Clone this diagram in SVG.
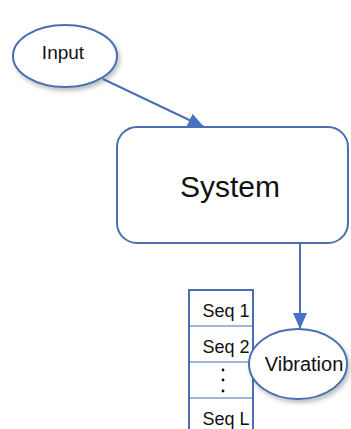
<svg xmlns="http://www.w3.org/2000/svg" width="351" height="429" viewBox="0 0 351 429">
<style>
.shape{fill:#fff;stroke:#4a6fb0;stroke-width:2}
.t{font-family:"Liberation Sans",Arial,sans-serif;fill:#111;text-anchor:middle}
.conn{stroke:#4a6fb0;stroke-width:2;fill:none}
</style>
<defs>
<marker id="ah" markerWidth="16" markerHeight="14" refX="16" refY="7" orient="auto" markerUnits="userSpaceOnUse" viewBox="0 0 16 14">
<path d="M0,0 L16,7 L0,14 z" fill="#4472c4"/>
</marker>
<filter id="sh" x="-20%" y="-20%" width="150%" height="150%">
<feDropShadow dx="2" dy="3" stdDeviation="2" flood-color="#000" flood-opacity="0.25"/>
</filter>
</defs>
<rect width="351" height="429" fill="#fff"/>
<g id="seq-table">
<rect x="189" y="290" width="64" height="145" class="shape" stroke-width="1.5"/>
<line x1="189" y1="326" x2="253" y2="326" stroke="#4a6fb0" stroke-width="1"/>
<line x1="189" y1="362" x2="253" y2="362" stroke="#4a6fb0" stroke-width="1"/>
<line x1="189" y1="398" x2="253" y2="398" stroke="#4a6fb0" stroke-width="1"/>
<text class="t" x="226" y="317" font-size="18">Seq 1</text>
<text class="t" x="226" y="353" font-size="18">Seq 2</text>
<circle cx="223" cy="370" r="1.4" fill="#111"/>
<circle cx="223" cy="380" r="1.4" fill="#111"/>
<circle cx="223" cy="391" r="1.4" fill="#111"/>
<text class="t" x="226" y="425" font-size="18">Seq L</text>
</g>
<g id="input">
<ellipse cx="65" cy="56" rx="52" ry="31" class="shape" filter="url(#sh)"/>
<text class="t" x="63" y="59" font-size="19">Input</text>
</g>
<g id="system">
<rect x="117" y="127" width="231" height="116" rx="20" class="shape"/>
<text class="t" x="230" y="197" font-size="30">System</text>
</g>
<g id="vibration">
<ellipse cx="298" cy="364" rx="49" ry="35" class="shape" filter="url(#sh)"/>
<text class="t" x="304" y="371" font-size="20">Vibration</text>
</g>
<g id="connectors">
<line x1="103" y1="79" x2="204" y2="127" class="conn" marker-end="url(#ah)"/>
<line x1="300" y1="243" x2="300" y2="329" class="conn" marker-end="url(#ah)"/>
</g>
</svg>
